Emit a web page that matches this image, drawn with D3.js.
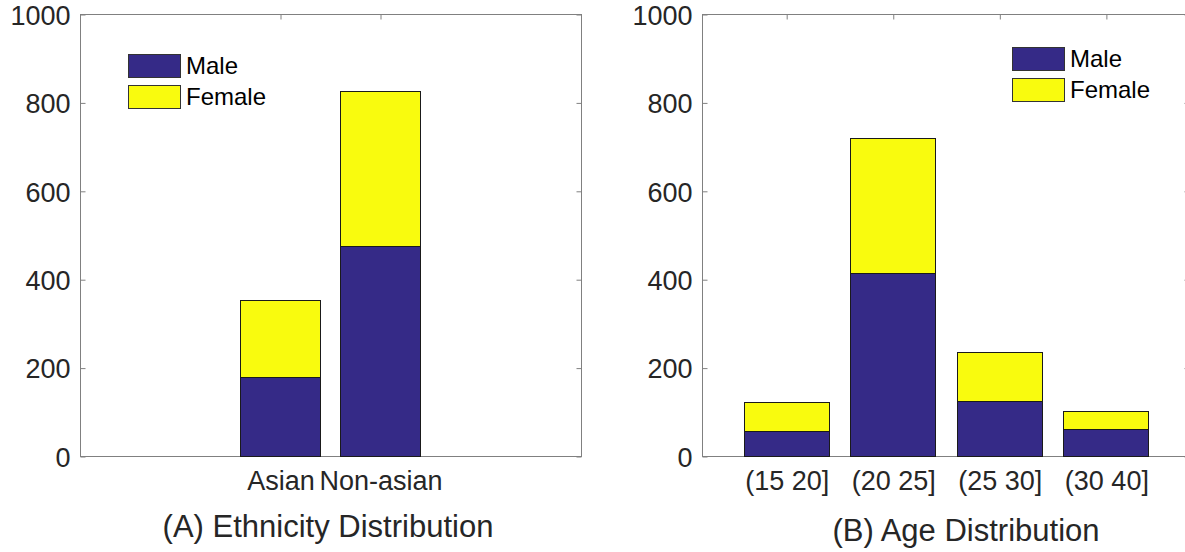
<!DOCTYPE html>
<html>
<head>
<meta charset="utf-8">
<script src="https://cdn.jsdelivr.net/npm/d3@7"></script>
<style>
  html, body { margin: 0; padding: 0; background: #fff; }
  svg { display: block; font-family: "Liberation Sans", Arial, Helvetica, sans-serif; }
</style>
</head>
<body>
<svg id="chart" width="1185" height="552"></svg>
<script>
// ---- data ----
const seriesNames = ["Male", "Female"];
const ethnicityCategories = ["Asian", "Non-asian"];
const ethnicityMale = [178, 475];
const ethnicityFemale = [174, 351];

const ageCategories = ["", "(15 20]", "(20 25]", "(25 30]", "(30 40]"];
const ageMale = [0, 57, 414, 124, 60];
const ageFemale = [0, 65, 306, 112, 42];

const yTicks = [0, 200, 400, 600, 800, 1000];
const titles = ["(A) Ethnicity Distribution", "(B) Age Distribution"];

const colors = { Male: "#352a87", Female: "#f9fb0e" };

// ---- layout ----
const svg = d3.select("#chart");
const TICK_FONT = 27, LEGEND_FONT = 24, TITLE_FONT = 31;
const textColor = "#262626";
const axisColor = "#808080";
const yTop = 14, yBottom = 456;

const panels = [
  {
    cats: ethnicityCategories, male: ethnicityMale, female: ethnicityFemale,
    positions: [1, 2], tickPositions: [1, 2],
    xDomain: [-1, 4.01], xRange: [80, 581],
    legend: { x: 128, y: 54 }, title: titles[0], titleX: 328, titleY: 537
  },
  {
    cats: ageCategories, male: ageMale, female: ageFemale,
    positions: [0, 1, 2, 3, 4], tickPositions: [1, 2, 3, 4],
    xDomain: [0.21, 4.78], xRange: [702, 1189],
    legend: { x: 1012, y: 47 }, title: titles[1], titleX: 966, titleY: 541
  }
];

const y = d3.scaleLinear().domain([0, 1000]).range([yBottom, yTop]);

panels.forEach((p, pi) => {
  const x = d3.scaleLinear().domain(p.xDomain).range(p.xRange);
  const g = svg.append("g");
  const x0 = p.xRange[0], x1 = p.xRange[1];

  const clipId = "clip" + pi;
  svg.append("clipPath").attr("id", clipId)
    .append("rect").attr("x", x0).attr("y", yTop - 1)
    .attr("width", x1 - x0).attr("height", yBottom - yTop + 2);

  // box
  g.append("rect")
    .attr("x", x0 + 0.5).attr("y", yTop + 0.5)
    .attr("width", x1 - x0).attr("height", yBottom - yTop)
    .attr("fill", "none").attr("stroke", axisColor).attr("stroke-width", 1);

  const tickLabelFor = v => {
    const i = p.positions.indexOf(v);
    return i >= 0 ? p.cats[i] : "";
  };

  // left axis
  const left = g.append("g").attr("transform", `translate(${x0 + 0.5},0.5)`)
    .call(d3.axisLeft(y).tickValues(yTicks).tickSize(-5).tickPadding(10).tickFormat(d3.format("d")));
  // right axis (ticks only)
  const right = g.append("g").attr("transform", `translate(${x1 + 0.5},0.5)`)
    .call(d3.axisRight(y).tickValues(yTicks).tickSize(-5).tickFormat(""));
  // top axis (ticks only)
  const top = g.append("g").attr("transform", `translate(0.5,${yTop + 0.5})`)
    .call(d3.axisTop(x).tickValues(p.tickPositions).tickSize(-5).tickFormat(""));
  // bottom axis
  const bottom = g.append("g").attr("transform", `translate(0.5,${yBottom + 0.5})`)
    .call(d3.axisBottom(x).tickValues(p.tickPositions).tickSize(-5).tickPadding(14).tickFormat(tickLabelFor));

  [left, right, top, bottom].forEach(a => {
    a.select(".domain").remove();
    a.selectAll(".tick line").attr("stroke", axisColor);
    a.selectAll(".tick text").attr("fill", textColor).style("font-size", TICK_FONT + "px")
      .style("font-family", '"Liberation Sans", Arial, Helvetica, sans-serif');
  });
  left.selectAll(".tick text").attr("dy", "0.36em");

  // bars
  const barW = x(0.8) - x(0);
  const bars = g.append("g").attr("clip-path", `url(#${clipId})`);
  p.positions.forEach((pos, i) => {
    const m = p.male[i], f = p.female[i];
    const bx = Math.round(x(pos) - barW / 2) + 0.5;
    const w = Math.round(barW);
    bars.append("rect")
      .attr("x", bx).attr("y", Math.round(y(m + f)) + 0.5)
      .attr("width", w).attr("height", Math.round(y(m)) - Math.round(y(m + f)))
      .attr("fill", colors.Female).attr("stroke", "#1a1a1a").attr("stroke-width", 1);
    bars.append("rect")
      .attr("x", bx).attr("y", Math.round(y(m)) + 0.5)
      .attr("width", w).attr("height", Math.round(y(0)) - Math.round(y(m)))
      .attr("fill", colors.Male).attr("stroke", "#1a1a1a").attr("stroke-width", 1);
  });

  // legend
  const lg = g.append("g").attr("transform", `translate(${p.legend.x},${p.legend.y})`);
  seriesNames.forEach((s, i) => {
    lg.append("rect")
      .attr("x", 0.5).attr("y", i * 31 + 0.5)
      .attr("width", 52).attr("height", 23)
      .attr("fill", colors[s]).attr("stroke", "#333").attr("stroke-width", 1);
    lg.append("text")
      .attr("x", 58).attr("y", i * 31 + 20)
      .attr("fill", "#000").style("font-size", LEGEND_FONT + "px")
      .text(s);
  });

  // title
  svg.append("text")
    .attr("x", p.titleX).attr("y", p.titleY)
    .attr("text-anchor", "middle")
    .attr("fill", textColor).style("font-size", TITLE_FONT + "px")
    .text(p.title);
});
</script>
</body>
</html>
